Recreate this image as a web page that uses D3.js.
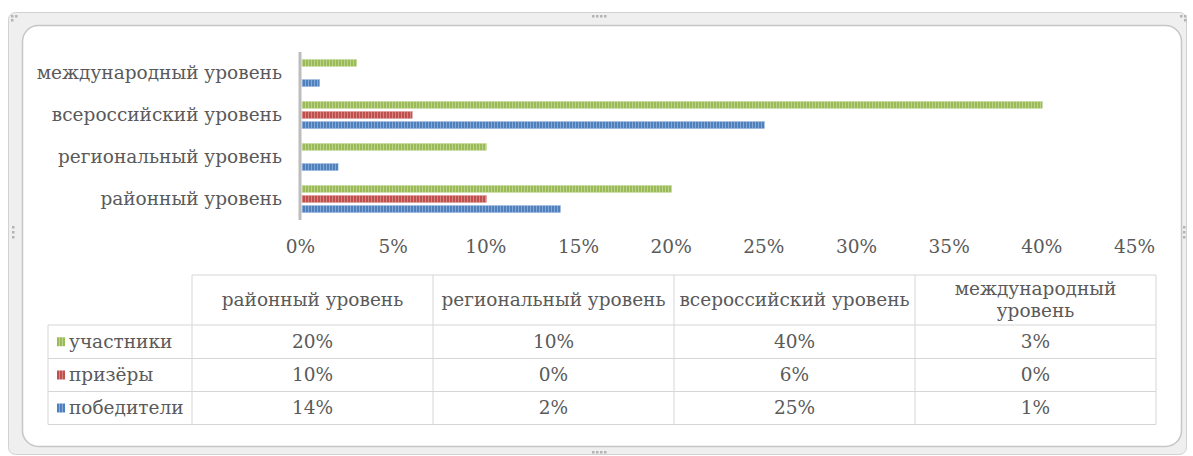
<!DOCTYPE html>
<html>
<head>
<meta charset="utf-8">
<script src="https://cdn.jsdelivr.net/npm/d3@7"></script>
<style>
  html, body { margin: 0; padding: 0; background: #fff; }
  svg { display: block; }
</style>
</head>
<body>
<svg id="chart" width="1193" height="456"></svg>
<script>
// ---- Dados
const categories = ['районный уровень', 'региональный уровень', 'всероссийский уровень', 'международный уровень'];
const seriesNames = ['участники', 'призёры', 'победители'];
const participants = [0.20, 0.10, 0.40, 0.03];
const prizeWinners = [0.10, 0.00, 0.06, 0.00];
const winners = [0.14, 0.02, 0.25, 0.01];
const xTicks = [0, 0.05, 0.10, 0.15, 0.20, 0.25, 0.30, 0.35, 0.40, 0.45];

const seriesValues = [participants, prizeWinners, winners];
const colors = ['#9bbb59', '#c0504d', '#4f81bd'];
const stripes = ['#bcd38e', '#d68482', '#86a8d6'];
const textColor = '#5a5a5a';
const fontFamily = 'DejaVu Serif, serif';
const fontSize = 18.5;

const svg = d3.select('#chart');

// ---- Moldura
svg.append('rect')
    .attr('x', 8.5).attr('y', 12.5).attr('width', 1178).attr('height', 442)
    .attr('rx', 7)
    .attr('fill', '#efefef').attr('stroke', '#d2d2d2');
svg.append('rect')
    .attr('x', 22.5).attr('y', 25.5).attr('width', 1159).attr('height', 421)
    .attr('rx', 16)
    .attr('fill', '#fff').attr('stroke', '#c6c6c6').attr('stroke-width', 1.5);

const handles = [
    [592, 15], [596, 15], [600, 15], [604, 15],
    [11, 15], [15, 15], [11, 19],
    [1180, 15], [1184, 15], [1184, 19],
    [12, 226], [12, 231], [12, 236],
    [1183, 226], [1183, 231], [1183, 236],
    [592, 451], [596, 451], [600, 451], [604, 451]
];
svg.append('g').selectAll('rect')
    .data(handles).join('rect')
    .attr('x', d => d[0]).attr('y', d => d[1])
    .attr('width', 2.5).attr('height', 2.5)
    .attr('fill', '#b4b4b4');

// ---- Padrões listrados
const defs = svg.append('defs');
colors.forEach((c, i) => {
    const p = defs.append('pattern')
        .attr('id', `stripe-${i}`)
        .attr('patternUnits', 'userSpaceOnUse')
        .attr('width', 3).attr('height', 10);
    p.append('rect').attr('width', 3).attr('height', 10).attr('fill', c);
    p.append('rect').attr('x', 2).attr('width', 1).attr('height', 10).attr('fill', stripes[i]);
});

// ---- Escalas
const x = d3.scaleLinear().domain([0, 0.45]).range([300, 1134]);

const y = d3.scaleBand()
    .domain(categories.slice().reverse())
    .range([52, 220]);

const y1 = d3.scaleBand()
    .domain(seriesNames)
    .range([0, y.bandwidth()])
    .paddingInner(0.33)
    .paddingOuter(0.75);

const barData = [];
categories.forEach((cat, ci) => {
    seriesNames.forEach((s, si) => {
        barData.push({ cat, s, si, value: seriesValues[si][ci] });
    });
});

svg.append('g').selectAll('rect')
    .data(barData.filter(d => d.value > 0)).join('rect')
    .attr('x', x(0) + 2)
    .attr('y', d => y(d.cat) + y1(d.s))
    .attr('width', d => x(d.value) - x(0) - 1)
    .attr('height', y1.bandwidth())
    .attr('fill', d => `url(#stripe-${d.si})`)
    .attr('stroke', d => stripes[d.si])
    .attr('stroke-width', 0.5);

// ---- Eixo vertical
svg.append('line')
    .attr('x1', x(0)).attr('x2', x(0))
    .attr('y1', 52).attr('y2', 220)
    .attr('stroke', '#bdbdbd').attr('stroke-width', 3);

svg.append('g').selectAll('text')
    .data(categories).join('text')
    .attr('x', 282)
    .attr('y', d => y(d) + y.bandwidth() / 2)
    .attr('dy', '0.35em')
    .attr('text-anchor', 'end')
    .attr('font-family', fontFamily).attr('font-size', fontSize)
    .attr('fill', textColor)
    .text(d => d);

// ---- Eixo horizontal (só rótulos)
svg.append('g')
    .attr('transform', 'translate(0, 237)')
    .call(d3.axisBottom(x).tickValues(xTicks).tickSize(0).tickFormat(d3.format('.0%')))
    .call(g => g.select('.domain').remove())
    .call(g => g.selectAll('text')
        .attr('font-family', fontFamily).attr('font-size', fontSize)
        .attr('fill', textColor));

// ---- Tabela de dados
const colX = [48, 192, 433, 674, 915, 1156];
const rowY = [275, 325, 358.5, 391.5, 424.5];
const order = [0, 1, 2, 3];
const border = '#d6d6d6';

const table = svg.append('g');

// bordas horizontais
table.append('line')
    .attr('x1', colX[1]).attr('x2', colX[5])
    .attr('y1', rowY[0]).attr('y2', rowY[0])
    .attr('stroke', border);
table.selectAll('.hline')
    .data(rowY.slice(1)).join('line')
    .attr('class', 'hline')
    .attr('x1', colX[0]).attr('x2', colX[5])
    .attr('y1', d => d).attr('y2', d => d)
    .attr('stroke', border);
// bordas verticais
table.selectAll('.vline')
    .data(colX).join('line')
    .attr('class', 'vline')
    .attr('x1', d => d).attr('x2', d => d)
    .attr('y1', (d, i) => i === 0 ? rowY[1] : rowY[0])
    .attr('y2', rowY[4])
    .attr('stroke', border);

// cabeçalho
const headerLines = categories.map(c => c === 'международный уровень' ? ['международный', 'уровень'] : [c]);
order.forEach(ci => {
    const cx = (colX[ci + 1] + colX[ci + 2]) / 2;
    const lines = headerLines[ci];
    const t = table.append('text')
        .attr('x', cx)
        .attr('text-anchor', 'middle')
        .attr('font-family', fontFamily).attr('font-size', fontSize)
        .attr('fill', textColor);
    lines.forEach((ln, li) => {
        t.append('tspan')
            .attr('x', cx)
            .attr('y', (rowY[0] + rowY[1]) / 2 + (li - (lines.length - 1) / 2) * 22)
            .attr('dy', '0.35em')
            .text(ln);
    });
});

// linhas de séries
seriesNames.forEach((s, si) => {
    const cy = (rowY[si + 1] + rowY[si + 2]) / 2;
    const lg = table.append('g');
    lg.append('rect')
        .attr('x', 57).attr('y', cy - 4.5)
        .attr('width', 8).attr('height', 9)
        .attr('fill', `url(#stripe-${si})`);
    lg.append('text')
        .attr('x', 69).attr('y', cy)
        .attr('dy', '0.35em')
        .attr('font-family', fontFamily).attr('font-size', fontSize)
        .attr('fill', textColor)
        .text(s);
    seriesValues[si].forEach((v, ci) => {
        table.append('text')
            .attr('x', (colX[ci + 1] + colX[ci + 2]) / 2)
            .attr('y', cy).attr('dy', '0.35em')
            .attr('text-anchor', 'middle')
            .attr('font-family', fontFamily).attr('font-size', fontSize)
            .attr('fill', textColor)
            .text(d3.format('.0%')(v));
    });
});
</script>
</body>
</html>
